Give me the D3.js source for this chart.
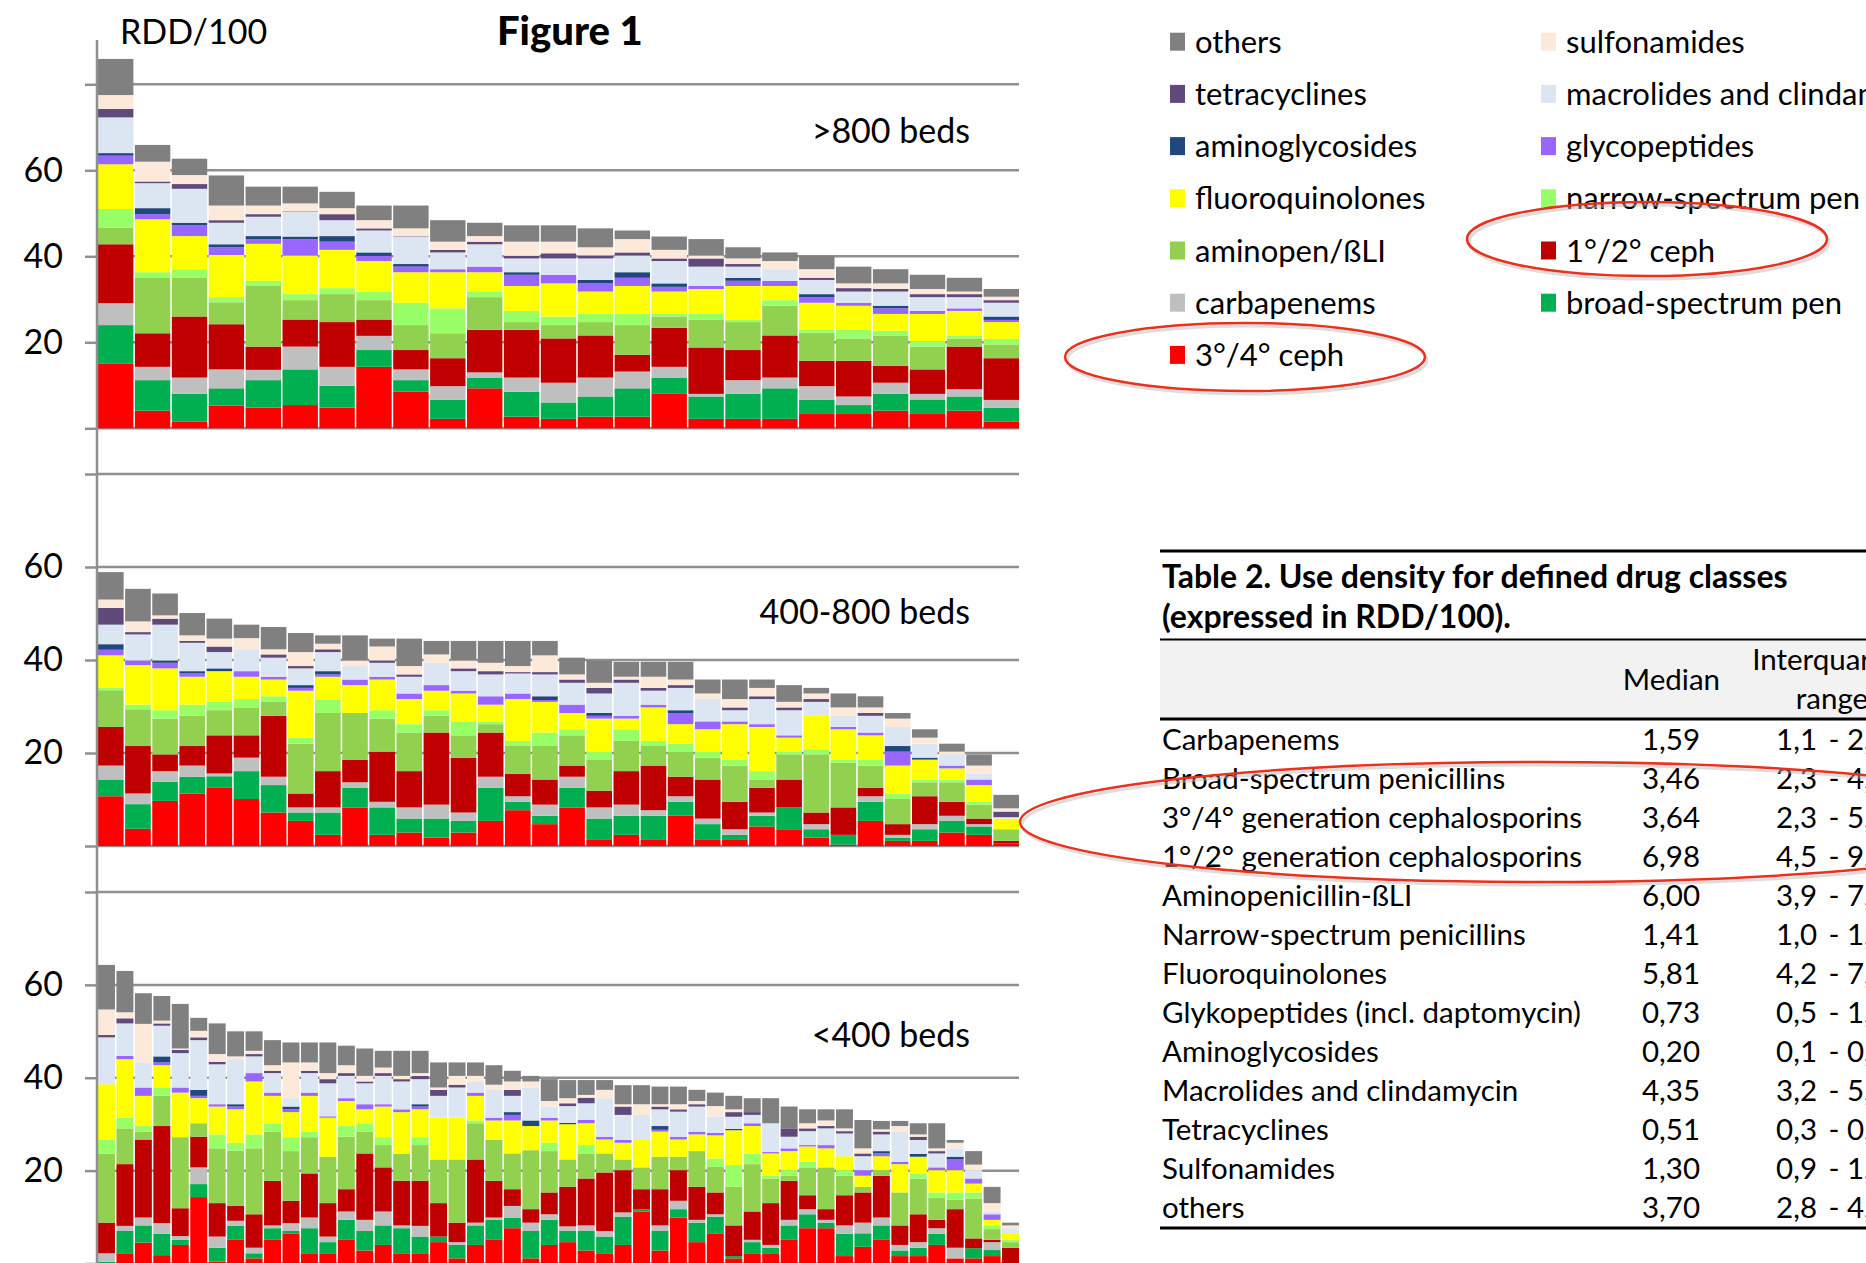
<!DOCTYPE html>
<html>
<head>
<meta charset="utf-8">
<script src="https://cdn.jsdelivr.net/npm/d3@7/dist/d3.min.js"></script>
<style>
  body { margin: 0; background: #fff; }
  text { font-family: Lato, "Open Sans", sans-serif; }
</style>
</head>
<body>
<script>
// stack order, bottom -> top
var classes = ["3°/4° ceph", "broad-spectrum pen", "carbapenems", "1°/2° ceph", "aminopen/ßLI",
  "narrow-spectrum pen", "fluoroquinolones", "glycopeptides", "aminoglycosides",
  "macrolides and clindamycin", "tetracyclines", "sulfonamides", "others"];
var classColors = ["#ff0000", "#00b050", "#bfbfbf", "#c00000", "#92d050", "#99ff66", "#ffff00",
  "#9966ff", "#1f497d", "#dce6f2", "#604a7b", "#fde9d9", "#808080"];

var legendLeft = ["others", "tetracyclines", "aminoglycosides", "fluoroquinolones", "aminopen/ßLI", "carbapenems", "3°/4° ceph"];
var legendRight = ["sulfonamides", "macrolides and clindamycin", "glycopeptides", "narrow-spectrum pen", "1°/2° ceph", "broad-spectrum pen"];

// RDD/100 per hospital, one row per bar, values in stack order
var beds800 = [
  [15.1, 8.9, 5.1, 13.7, 3.9, 4.3, 10.4, 2.0, 0.6, 8.3, 2.0, 3.2, 8.4],
  [4.1, 7.1, 3.1, 7.8, 13.0, 1.2, 12.3, 1.2, 1.4, 5.8, 0.4, 4.6, 3.9],
  [1.6, 6.4, 3.8, 14.2, 9.1, 1.9, 7.7, 2.5, 0.6, 7.9, 1.1, 2.1, 3.8],
  [5.3, 4.0, 4.4, 10.5, 5.1, 1.2, 9.8, 1.8, 0.7, 5.0, 0.6, 3.4, 7.0],
  [4.8, 6.4, 2.4, 5.4, 14.1, 1.2, 8.6, 1.1, 0.7, 4.5, 0.6, 2.0, 4.4],
  [5.4, 8.3, 5.3, 6.3, 4.5, 1.4, 9.0, 3.8, 0.6, 5.8, 0.1, 1.8, 3.9],
  [4.8, 5.1, 4.4, 10.4, 6.5, 1.4, 8.9, 1.9, 1.3, 3.7, 1.4, 1.4, 3.8],
  [14.3, 3.9, 3.3, 3.8, 4.5, 2.0, 7.1, 1.2, 0.8, 5.1, 0.5, 1.9, 3.4],
  [8.5, 2.7, 2.5, 4.5, 5.8, 5.2, 7.1, 1.3, 0.6, 6.4, 0.1, 1.8, 5.3],
  [2.2, 4.4, 3.2, 6.5, 5.8, 5.8, 8.4, 0.7, 0.0, 3.9, 0.6, 1.9, 5.0],
  [9.3, 2.5, 1.2, 9.9, 7.6, 1.3, 4.5, 1.3, 0.0, 5.2, 0.6, 1.3, 3.1],
  [2.7, 5.8, 3.3, 11.1, 1.8, 2.6, 5.8, 2.6, 0.6, 3.2, 0.6, 3.3, 3.8],
  [2.2, 3.8, 4.6, 10.3, 3.1, 2.0, 7.7, 2.0, 0.0, 3.8, 1.2, 2.7, 3.8],
  [2.7, 4.7, 4.4, 9.8, 3.1, 1.9, 5.2, 1.9, 0.8, 5.0, 0.7, 1.9, 4.4],
  [2.7, 6.6, 3.9, 3.9, 6.9, 2.6, 6.5, 1.9, 1.3, 3.9, 0.7, 3.1, 2.0],
  [8.0, 3.8, 2.5, 9.1, 2.6, 0.6, 5.2, 1.1, 0.8, 5.2, 0.6, 2.0, 3.1],
  [2.2, 5.2, 0.6, 10.8, 6.5, 1.3, 5.8, 0.7, 0.0, 4.5, 1.9, 0.7, 3.8],
  [2.2, 5.8, 3.2, 7.0, 6.5, 0.6, 7.8, 1.2, 0.7, 2.6, 0.6, 1.3, 2.6],
  [2.2, 7.1, 2.5, 9.8, 6.9, 1.3, 3.3, 1.2, 0.0, 2.7, 0.0, 1.9, 2.0],
  [3.5, 3.1, 3.2, 5.9, 6.5, 0.7, 6.3, 1.3, 0.7, 3.3, 0.5, 2.0, 3.1],
  [3.5, 1.9, 2.0, 8.3, 5.2, 2.0, 5.6, 0.7, 0.0, 2.6, 0.8, 1.1, 3.9],
  [4.1, 3.9, 2.6, 3.9, 7.0, 1.2, 3.9, 1.3, 0.6, 3.3, 0.6, 1.3, 3.3],
  [3.5, 3.2, 1.3, 5.7, 5.3, 1.2, 6.4, 0.7, 0.0, 3.2, 0.7, 1.2, 3.3],
  [4.1, 3.3, 1.7, 9.9, 1.9, 0.6, 5.8, 0.6, 0.0, 2.6, 0.7, 0.6, 3.2],
  [1.6, 3.2, 1.8, 9.7, 3.2, 1.3, 3.9, 0.5, 0.8, 3.2, 0.6, 0.8, 1.8]
];

var beds400to800 = [
  [10.7, 3.6, 3.0, 8.3, 7.9, 0.5, 7.0, 1.2, 1.2, 4.2, 3.6, 1.8, 5.9],
  [3.7, 5.3, 2.3, 10.2, 7.9, 1.0, 8.5, 1.0, 0.0, 5.6, 0.5, 2.3, 7.0],
  [9.7, 4.1, 2.3, 3.6, 7.7, 1.8, 9.0, 1.2, 0.5, 7.7, 1.3, 0.7, 4.7],
  [11.3, 3.6, 2.4, 4.2, 6.5, 2.4, 6.0, 0.7, 0.5, 6.1, 0.4, 1.2, 4.8],
  [12.5, 2.5, 0.6, 8.2, 5.4, 1.8, 6.6, 0.0, 0.6, 3.5, 1.2, 1.7, 4.3],
  [10.1, 6.0, 2.9, 4.8, 6.0, 1.8, 4.8, 1.2, 0.0, 4.7, 0.0, 2.4, 2.9],
  [7.2, 5.9, 1.8, 13.1, 3.0, 1.2, 3.6, 0.6, 0.0, 4.1, 0.7, 1.1, 4.8],
  [5.4, 1.8, 1.1, 3.0, 10.7, 1.3, 10.1, 0.6, 0.6, 3.6, 0.5, 3.0, 4.1],
  [2.4, 4.8, 1.1, 7.8, 12.5, 2.9, 4.9, 0.5, 0.7, 4.1, 0.6, 1.2, 1.8],
  [8.3, 4.2, 1.2, 4.8, 10.1, 0.0, 6.0, 1.2, 0.0, 2.9, 0.0, 1.2, 5.4],
  [2.4, 5.9, 1.2, 10.8, 7.1, 1.8, 6.6, 0.6, 0.0, 3.0, 0.5, 3.0, 1.7],
  [2.9, 3.0, 2.4, 7.8, 8.3, 1.8, 5.4, 1.2, 0.0, 3.6, 0.5, 1.8, 5.9],
  [1.8, 4.1, 3.0, 15.5, 3.6, 1.2, 4.2, 1.2, 0.0, 4.8, 0.0, 1.8, 2.9],
  [2.9, 2.5, 1.8, 11.8, 4.8, 3.0, 6.0, 0.6, 0.0, 4.2, 0.6, 1.7, 4.2],
  [5.4, 7.1, 2.4, 9.5, 1.8, 0.6, 3.6, 1.8, 0.0, 4.7, 0.7, 1.8, 4.7],
  [7.7, 1.8, 1.2, 4.8, 6.0, 1.1, 9.0, 1.2, 0.0, 4.3, 0.3, 1.3, 5.4],
  [4.7, 1.8, 2.4, 5.4, 7.2, 2.9, 6.6, 0.4, 0.8, 4.7, 0.5, 3.6, 3.1],
  [8.3, 4.2, 2.4, 2.4, 6.5, 1.3, 3.5, 1.8, 0.0, 4.7, 0.7, 1.1, 3.6],
  [1.3, 4.6, 2.4, 3.6, 6.6, 1.8, 7.1, 0.6, 0.6, 4.2, 1.2, 1.1, 4.8],
  [2.4, 4.1, 2.4, 7.2, 6.5, 2.5, 2.3, 0.6, 0.0, 7.1, 0.7, 0.6, 3.2],
  [1.3, 5.2, 1.2, 9.6, 4.2, 1.1, 7.2, 0.6, 0.0, 3.0, 0.6, 2.4, 3.2],
  [6.5, 3.0, 1.2, 4.2, 5.4, 1.7, 4.2, 2.4, 0.6, 4.8, 0.6, 1.2, 3.8],
  [1.3, 3.4, 1.2, 8.4, 4.7, 1.3, 4.8, 1.7, 0.0, 4.8, 0.0, 1.2, 3.0],
  [1.3, 1.1, 1.2, 5.9, 7.8, 1.2, 7.7, 0.6, 0.0, 2.4, 0.6, 1.8, 4.2],
  [4.2, 2.3, 0.7, 5.3, 1.8, 1.8, 9.5, 0.6, 0.0, 5.4, 0.6, 1.8, 1.8],
  [3.6, 4.7, 0.0, 6.0, 5.4, 0.6, 3.0, 0.5, 0.0, 5.4, 0.6, 1.2, 3.6],
  [1.8, 1.8, 1.1, 2.5, 12.5, 1.1, 7.2, 0.0, 0.0, 3.0, 0.6, 1.2, 1.2],
  [0.3, 2.1, 0.0, 5.9, 9.6, 0.6, 6.6, 0.5, 0.0, 2.4, 0.0, 1.8, 3.0],
  [5.4, 4.1, 1.2, 1.8, 4.8, 1.2, 5.3, 0.6, 0.0, 3.6, 0.6, 1.2, 2.4],
  [1.1, 0.7, 0.6, 2.3, 5.4, 1.2, 6.0, 3.0, 1.2, 4.1, 0.0, 1.8, 1.2],
  [1.1, 2.5, 1.1, 6.0, 3.0, 0.6, 4.2, 0.2, 0.3, 3.0, 0.0, 1.3, 1.8],
  [2.9, 2.5, 1.1, 3.0, 4.2, 0.6, 2.4, 0.6, 0.0, 2.4, 0.0, 0.6, 1.7],
  [2.4, 1.8, 0.5, 1.2, 3.0, 0.6, 3.6, 1.2, 0.0, 1.2, 0.0, 1.8, 2.4],
  [0.6, 0.0, 0.0, 0.5, 2.5, 0.0, 2.3, 0.0, 0.0, 0.3, 1.2, 0.7, 2.9]
];

var bedsUnder400 = [
  [0.0, 0.4, 1.8, 6.6, 14.8, 3.0, 12.0, 0.0, 0.0, 10.1, 0.5, 5.5, 9.6],
  [2.2, 4.8, 1.1, 13.3, 7.7, 2.3, 12.6, 0.7, 0.0, 7.0, 1.1, 1.3, 8.9],
  [4.5, 3.7, 1.7, 16.8, 1.7, 1.2, 6.5, 1.8, 0.0, 5.4, 0.0, 8.3, 6.6],
  [1.8, 4.6, 2.3, 20.9, 6.5, 1.8, 4.8, 0.6, 1.3, 6.6, 0.5, 0.6, 5.3],
  [4.0, 1.1, 0.8, 6.0, 15.3, 0.0, 9.6, 1.1, 0.0, 7.4, 0.7, 0.3, 9.6],
  [14.3, 2.8, 3.6, 6.6, 2.9, 0.0, 5.4, 0.5, 1.3, 10.7, 0.6, 1.4, 2.8],
  [0.4, 3.0, 2.4, 7.2, 11.8, 3.0, 6.0, 0.5, 0.0, 8.6, 0.5, 1.7, 6.6],
  [5.2, 2.9, 1.1, 3.2, 11.9, 1.7, 7.2, 0.6, 0.5, 9.7, 0.0, 0.6, 5.4],
  [1.1, 1.1, 1.2, 7.2, 14.2, 3.0, 11.4, 1.8, 0.0, 3.6, 0.5, 0.7, 4.2],
  [5.2, 2.4, 0.6, 9.6, 10.6, 1.8, 5.9, 0.7, 0.0, 4.2, 0.5, 1.2, 5.4],
  [6.4, 0.6, 1.7, 4.8, 10.7, 3.0, 5.4, 0.6, 0.6, 1.8, 0.0, 7.7, 4.3],
  [2.2, 5.4, 2.3, 9.5, 7.8, 1.2, 7.7, 0.7, 0.0, 4.2, 0.5, 1.8, 4.3],
  [2.2, 2.4, 1.2, 7.2, 10.0, 0.0, 8.4, 0.3, 0.0, 7.1, 0.9, 1.3, 6.6],
  [5.2, 4.2, 1.8, 4.8, 11.3, 2.3, 5.4, 0.6, 0.0, 4.8, 0.6, 1.7, 4.2],
  [2.8, 4.2, 2.4, 14.3, 4.7, 1.8, 3.0, 1.1, 0.0, 4.5, 0.4, 1.2, 5.9],
  [4.0, 4.2, 3.0, 9.5, 4.8, 1.7, 6.6, 0.5, 0.0, 6.1, 0.6, 1.2, 3.6],
  [2.2, 5.4, 0.6, 9.6, 5.8, 0.0, 9.0, 0.6, 0.0, 6.0, 0.5, 0.7, 5.4],
  [2.2, 3.6, 2.3, 9.7, 7.7, 1.7, 6.0, 0.6, 0.5, 5.4, 0.7, 0.6, 4.8],
  [4.6, 1.2, 0.0, 7.2, 9.4, 0.0, 9.0, 0.0, 0.0, 4.7, 1.3, 0.5, 5.4],
  [1.1, 2.9, 0.6, 4.2, 13.6, 0.0, 9.0, 0.0, 0.0, 6.5, 0.6, 1.9, 2.9],
  [4.0, 4.2, 0.6, 13.6, 7.8, 0.6, 5.3, 0.7, 0.0, 2.4, 0.0, 1.2, 2.9],
  [5.2, 4.2, 0.5, 7.9, 8.8, 0.0, 4.2, 0.6, 0.0, 6.0, 0.0, 1.1, 4.2],
  [7.6, 2.3, 2.5, 3.6, 7.7, 0.0, 7.1, 1.2, 0.6, 3.5, 1.3, 1.8, 2.3],
  [1.1, 5.9, 1.8, 2.9, 12.7, 0.0, 5.2, 0.0, 1.2, 7.1, 0.0, 1.3, 1.2],
  [4.0, 5.4, 1.2, 4.7, 8.9, 1.8, 4.8, 0.6, 0.0, 2.4, 0.0, 1.2, 4.7],
  [4.6, 2.4, 1.0, 8.5, 5.9, 0.0, 7.6, 0.0, 0.3, 3.6, 0.6, 1.1, 3.9],
  [2.8, 4.2, 1.2, 10.1, 5.4, 1.8, 4.7, 0.7, 0.0, 3.6, 1.2, 0.6, 3.2],
  [2.2, 3.6, 1.2, 12.6, 4.1, 0.0, 3.0, 0.6, 0.0, 8.3, 0.0, 1.8, 2.1],
  [4.0, 6.1, 0.9, 9.1, 2.3, 0.0, 3.6, 0.6, 0.0, 5.4, 1.8, 0.5, 4.1],
  [11.2, 0.5, 0.0, 4.3, 4.7, 0.0, 5.9, 0.0, 0.0, 5.4, 0.0, 2.3, 4.1],
  [2.8, 4.2, 1.2, 7.8, 7.0, 0.0, 5.4, 0.4, 0.8, 3.6, 0.6, 0.5, 3.8],
  [9.9, 1.8, 1.8, 6.6, 2.9, 0.0, 3.7, 0.6, 0.0, 5.4, 0.5, 1.1, 3.8],
  [4.6, 4.2, 0.6, 7.1, 7.7, 0.0, 3.6, 0.6, 0.0, 5.4, 0.5, 0.7, 2.4],
  [6.5, 3.6, 0.5, 4.7, 5.5, 1.8, 5.0, 0.5, 0.0, 3.5, 0.0, 2.3, 2.9],
  [1.1, 0.5, 0.0, 6.6, 8.3, 4.7, 7.5, 0.0, 0.3, 2.6, 1.0, 0.6, 2.9],
  [2.2, 2.4, 0.5, 6.1, 10.2, 2.2, 6.0, 0.6, 0.0, 1.8, 0.6, 0.0, 3.0],
  [2.2, 1.2, 0.6, 9.0, 5.3, 0.6, 4.8, 0.3, 0.0, 6.2, 0.0, 0.0, 5.4],
  [5.2, 3.0, 1.2, 8.4, 1.1, 1.2, 4.1, 0.6, 0.0, 2.5, 1.8, 0.0, 4.7],
  [7.6, 3.0, 1.1, 3.0, 6.0, 1.2, 3.3, 0.3, 0.0, 3.0, 0.6, 1.1, 3.0],
  [7.6, 1.2, 0.6, 2.3, 9.0, 0.0, 4.1, 0.7, 0.0, 3.6, 0.5, 1.2, 2.4],
  [1.6, 4.8, 1.8, 6.5, 4.2, 1.2, 3.0, 0.0, 0.0, 4.9, 0.5, 0.6, 4.1],
  [3.6, 2.9, 2.3, 6.5, 1.2, 0.0, 2.4, 1.2, 0.0, 3.0, 0.6, 1.1, 6.1],
  [5.2, 3.0, 1.7, 9.0, 1.2, 0.0, 3.0, 0.6, 0.5, 3.6, 0.6, 0.5, 1.8],
  [1.6, 1.2, 1.2, 4.2, 7.1, 0.0, 6.1, 0.5, 0.0, 6.5, 0.0, 1.2, 1.1],
  [1.6, 1.8, 1.2, 6.0, 7.7, 1.1, 3.6, 0.0, 0.6, 3.0, 0.7, 0.5, 2.4],
  [4.0, 2.4, 1.2, 1.8, 4.8, 1.1, 4.8, 0.6, 0.0, 3.0, 0.5, 0.6, 5.4],
  [1.1, 0.0, 2.3, 8.3, 2.0, 1.6, 4.8, 2.3, 0.6, 1.8, 0.0, 1.2, 0.6],
  [1.1, 2.2, 0.0, 2.1, 8.6, 1.3, 1.9, 1.1, 0.0, 1.8, 0.0, 1.2, 2.9],
  [1.6, 1.3, 1.7, 0.5, 2.3, 0.8, 1.2, 1.2, 0.0, 0.6, 0.0, 1.8, 3.5],
  [0.0, 0.0, 0.0, 3.4, 1.2, 0.5, 1.3, 0.0, 0.0, 1.2, 0.0, 0.6, 0.6]
];

// Table 2
var tableClasses = ["Carbapenems", "Broad-spectrum penicillins", "3°/4° generation cephalosporins",
  "1°/2° generation cephalosporins", "Aminopenicillin-ßLI", "Narrow-spectrum penicillins",
  "Fluoroquinolones", "Glykopeptides (incl. daptomycin)", "Aminoglycosides",
  "Macrolides and clindamycin", "Tetracyclines", "Sulfonamides", "others"];
var tableMedian = ["1,59", "3,46", "3,64", "6,98", "6,00", "1,41", "5,81", "0,73", "0,20", "4,35", "0,51", "1,30", "3,70"];
var tableQ1 = ["1,1", "2,3", "2,3", "4,5", "3,9", "1,0", "4,2", "0,5", "0,1", "3,2", "0,3", "0,9", "2,8"];
var tableQ3 = ["2,1", "4,8", "5,2", "9,4", "7,8", "1,9", "7,3", "1,1", "0,3", "5,6", "0,8", "1,8", "4,6"];

var width = 1866, height = 1263;
var axisX = 97, plotRight = 1019;
var gridColor = "#8f8f8f";

var svg = d3.select("body").append("svg")
    .attr("width", width)
    .attr("height", height);

svg.append("rect").attr("width", width).attr("height", height).attr("fill", "#fff");

var panels = [
  {rows: beds800, y0: 428.3, y80: 84.3, label: ">800 beds", labelY: 143},
  {rows: beds400to800, y0: 846, y80: 474, label: "400-800 beds", labelY: 624},
  {rows: bedsUnder400, y0: 1263.5, y80: 892, label: "<400 beds", labelY: 1047}
];

var stack = d3.stack().keys(d3.range(classes.length));

panels.forEach(function(p) {
  var y = d3.scaleLinear().domain([0, 80]).range([p.y0, p.y80]);
  var x = d3.scaleBand().domain(d3.range(p.rows.length)).range([axisX + 1, plotRight]);
  x.paddingInner(1.5 / x.step());

  var g = svg.append("g");

  // grid lines behind the bars
  g.append("g").selectAll("line")
      .data([0, 20, 40, 60, 80])
    .enter().append("line")
      .attr("x1", axisX).attr("x2", plotRight)
      .attr("y1", function(d) { return y(d); })
      .attr("y2", function(d) { return y(d); })
      .attr("stroke", gridColor)
      .attr("stroke-width", 2.5);

  var series = stack(p.rows);
  g.append("g").selectAll("g")
      .data(series)
    .enter().append("g")
      .attr("fill", function(s) { return classColors[s.key]; })
    .selectAll("rect")
      .data(function(s) { return s; })
    .enter().append("rect")
      .attr("x", function(d, i) { return x(i); })
      .attr("width", x.bandwidth())
      .attr("y", function(d) { return y(d[1]); })
      .attr("height", function(d) { return y(d[0]) - y(d[1]); });

  var ax = g.append("g")
      .attr("transform", "translate(" + axisX + ",0)")
      .call(d3.axisLeft(y).tickValues([0, 20, 40, 60, 80]).tickSize(12).tickPadding(22)
        .tickFormat(function(d) { return d > 0 && d < 80 ? d : ""; }));
  ax.select(".domain").remove();
  ax.selectAll(".tick line").attr("stroke", gridColor).attr("stroke-width", 2.5);
  ax.selectAll(".tick text")
      .attr("fill", "#000")
      .style("font-family", "Lato, sans-serif")
      .style("font-size", "34px");

  g.append("text")
      .attr("x", 970)
      .attr("y", p.labelY)
      .attr("text-anchor", "end")
      .style("font-size", "34px")
      .text(p.label);
});

// continuous vertical axis
svg.append("line")
    .attr("x1", axisX).attr("x2", axisX)
    .attr("y1", 40).attr("y2", height)
    .attr("stroke", gridColor)
    .attr("stroke-width", 2.5);

svg.append("text").attr("x", 120).attr("y", 44)
    .style("font-size", "34px").text("RDD/100");
svg.append("text").attr("x", 497).attr("y", 45)
    .style("font-size", "40px").style("font-weight", "900").text("Figure 1");

// legend
var legendFont = "31px";
function drawLegend(items, sx, tx) {
  var lg = svg.append("g").selectAll("g")
      .data(items)
    .enter().append("g")
      .attr("transform", function(d, i) { return "translate(0," + (41.7 + i * 52.2) + ")"; });
  lg.append("rect")
      .attr("x", sx).attr("y", -9)
      .attr("width", 15).attr("height", 18)
      .attr("fill", function(d) { return classColors[classes.indexOf(d)]; });
  lg.append("text")
      .attr("x", tx).attr("dy", "0.36em")
      .style("font-size", legendFont)
      .text(function(d) { return d; });
}
drawLegend(legendLeft, 1170, 1195);
drawLegend(legendRight, 1541, 1566);

// table
var tableFont = "29.5px", titleFont = "32px";
var tl = 1160;
svg.append("rect").attr("x", tl).attr("y", 640).attr("width", width - tl).attr("height", 78).attr("fill", "#f2f2f2");
[[551, 3], [639.5, 2], [719, 3], [1228, 3]].forEach(function(r) {
  svg.append("line").attr("x1", tl).attr("x2", width)
      .attr("y1", r[0]).attr("y2", r[0])
      .attr("stroke", "#000").attr("stroke-width", r[1]);
});
svg.append("text").attr("x", 1162).attr("y", 588)
    .style("font-size", titleFont).style("font-weight", "700")
    .text("Table 2. Use density for defined drug classes");
svg.append("text").attr("x", 1162).attr("y", 628)
    .style("font-size", titleFont).style("font-weight", "700")
    .text("(expressed in RDD/100).");
svg.append("text").attr("x", 1720).attr("y", 690).attr("text-anchor", "end")
    .style("font-size", tableFont).text("Median");
svg.append("text").attr("x", 1832).attr("y", 670).attr("text-anchor", "middle")
    .style("font-size", tableFont).text("Interquartile");
svg.append("text").attr("x", 1832).attr("y", 709).attr("text-anchor", "middle")
    .style("font-size", tableFont).text("range");

var rowY = d3.scalePoint().domain(d3.range(tableClasses.length)).range([750, 1218]);
var tr = svg.append("g").selectAll("g")
    .data(tableClasses)
  .enter().append("g")
    .attr("transform", function(d, i) { return "translate(0," + rowY(i) + ")"; })
    .style("font-size", tableFont);
tr.append("text").attr("x", 1162).text(function(d) { return d; });
tr.append("text").attr("x", 1700).attr("text-anchor", "end").text(function(d, i) { return tableMedian[i]; });
tr.append("text").attr("x", 1817).attr("text-anchor", "end").text(function(d, i) { return tableQ1[i]; });
tr.append("text").attr("x", 1834).attr("text-anchor", "middle").text("-");
tr.append("text").attr("x", 1847).text(function(d, i) { return tableQ3[i]; });

// red highlight ellipses
[[1647, 239, 180, 37], [1245, 357, 180, 34], [1540, 822, 520, 60]].forEach(function(e) {
  svg.append("ellipse")
      .attr("cx", e[0] + 2).attr("cy", e[1] + 3)
      .attr("rx", e[2]).attr("ry", e[3])
      .attr("fill", "none").attr("stroke", "#bbb").attr("stroke-opacity", 0.5).attr("stroke-width", 3);
  svg.append("ellipse")
      .attr("cx", e[0]).attr("cy", e[1])
      .attr("rx", e[2]).attr("ry", e[3])
      .attr("fill", "none").attr("stroke", "#e8321e").attr("stroke-width", 2.5);
});
</script>
</body>
</html>
